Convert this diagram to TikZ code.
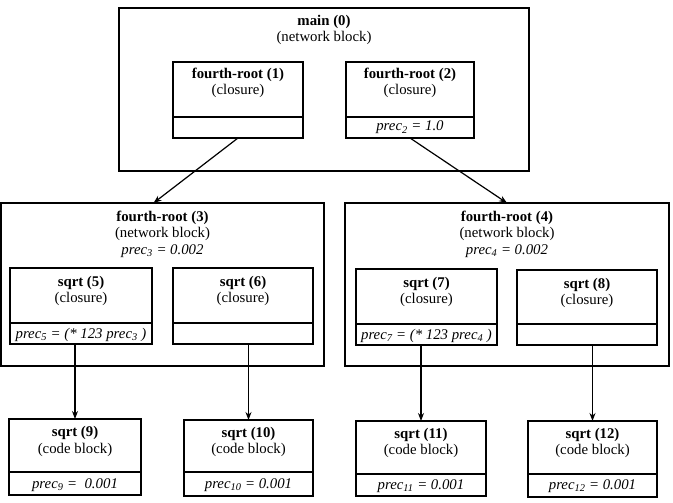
\documentclass[tikz,border=0pt]{standalone}
\usepackage{fontspec}
\setmainfont{Liberation Serif}
\usetikzlibrary{fit,arrows.meta,calc}
\newcommand{\pbox}[5]{\node[blk,fit={(#2,#3) (#4,#5)}] (#1) {};}
\begin{document}
\begin{tikzpicture}[x=1pt,y=-1pt,
  blk/.style={draw,line width=1.3pt,inner sep=0pt,outer sep=0pt},
  divl/.style={line width=1.1pt},
  txt/.style={anchor=base,inner sep=0pt,font=\fontsize{14.8}{17}\selectfont},
  ttl/.style={txt,font=\fontsize{14.8}{17}\selectfont\bfseries},
  prc/.style={txt,font=\fontsize{14.8}{17}\selectfont\itshape},
  conn/.style={line width=1.2pt,-{Stealth[length=8pt,width=6pt]}}]
\useasboundingbox (0,0) rectangle (673,503);
% main
\pbox{b0}{119}{8}{529}{171}
\node[ttl] (t0) at (b0.north |- 0,26) {main (0)};
\node[txt] (s0) at (b0.north |- 0,42) {(network block)};
% box 1
\pbox{b1}{173}{62}{303}{138}
\draw[divl] (b1.west |- 0,117) -- (b1.east |- 0,117);
\node[ttl] (t1) at (b1.north |- 0,79) {fourth-root (1)};
\node[txt] (s1) at (b1.north |- 0,95) {(closure)};
% box 2
\pbox{b2}{346}{62}{474}{138}
\draw[divl] (b2.west |- 0,117) -- (b2.east |- 0,117);
\node[ttl] (t2) at (b2.north |- 0,79) {fourth-root (2)};
\node[txt] (s2) at (b2.north |- 0,95) {(closure)};
\node[prc] (p2) at (b2.north |- 0,131) {prec\textsubscript{2} = 1.0};
% box 3
\pbox{b3}{1}{203}{324}{366}
\node[ttl] (t3) at (b3.north |- 0,221) {fourth-root (3)};
\node[txt] (s3) at (b3.north |- 0,237) {(network block)};
\node[prc] (p3) at (b3.north |- 0,254) {prec\textsubscript{3} = 0.002};
% box 4
\pbox{b4}{345}{203}{669}{366}
\node[ttl] (t4) at (b4.north |- 0,221) {fourth-root (4)};
\node[txt] (s4) at (b4.north |- 0,237) {(network block)};
\node[prc] (p4) at (b4.north |- 0,254) {prec\textsubscript{4} = 0.002};
% box 5
\pbox{b5}{10}{268}{152}{344}
\draw[divl] (b5.west |- 0,323) -- (b5.east |- 0,323);
\node[ttl] (t5) at (b5.north |- 0,286) {sqrt (5)};
\node[txt] (s5) at (b5.north |- 0,302) {(closure)};
\node[prc] (p5) at (b5.north |- 0,338) {prec\textsubscript{5} = (* 123 prec\textsubscript{3} )};
% box 6
\pbox{b6}{173}{268}{313}{344}
\draw[divl] (b6.west |- 0,323) -- (b6.east |- 0,323);
\node[ttl] (t6) at (b6.north |- 0,286) {sqrt (6)};
\node[txt] (s6) at (b6.north |- 0,302) {(closure)};
% box 7
\pbox{b7}{356}{269}{497}{345}
\draw[divl] (b7.west |- 0,324) -- (b7.east |- 0,324);
\node[ttl] (t7) at (b7.north |- 0,287) {sqrt (7)};
\node[txt] (s7) at (b7.north |- 0,303) {(closure)};
\node[prc] (p7) at (b7.north |- 0,339) {prec\textsubscript{7} = (* 123 prec\textsubscript{4} )};
% box 8
\pbox{b8}{517}{270}{657}{345}
\draw[divl] (b8.west |- 0,324) -- (b8.east |- 0,324);
\node[ttl] (t8) at (b8.north |- 0,288) {sqrt (8)};
\node[txt] (s8) at (b8.north |- 0,304) {(closure)};
% box 9
\pbox{b9}{9}{419}{141}{495}
\draw[divl] (b9.west |- 0,472) -- (b9.east |- 0,472);
\node[ttl] (t9) at (b9.north |- 0,436) {sqrt (9)};
\node[txt] (s9) at (b9.north |- 0,453) {(code block)};
\node[prc] (p9) at (b9.north |- 0,488) {prec\textsubscript{9} =\ \ 0.001};
% box 10
\pbox{b10}{184}{420}{313}{496}
\draw[divl] (b10.west |- 0,472) -- (b10.east |- 0,472);
\node[ttl] (t10) at (b10.north |- 0,437) {sqrt (10)};
\node[txt] (s10) at (b10.north |- 0,453) {(code block)};
\node[prc] (p10) at (b10.north |- 0,488) {prec\textsubscript{10} = 0.001};
% box 11
\pbox{b11}{356}{421}{486}{496}
\draw[divl] (b11.west |- 0,474) -- (b11.east |- 0,474);
\node[ttl] (t11) at (b11.north |- 0,438) {sqrt (11)};
\node[txt] (s11) at (b11.north |- 0,454) {(code block)};
\node[prc] (p11) at (b11.north |- 0,489) {prec\textsubscript{11} = 0.001};
% box 12
\pbox{b12}{528}{421}{657}{497}
\draw[divl] (b12.west |- 0,474) -- (b12.east |- 0,474);
\node[ttl] (t12) at (b12.north |- 0,438) {sqrt (12)};
\node[txt] (s12) at (b12.north |- 0,454) {(code block)};
\node[prc] (p12) at (b12.north |- 0,489) {prec\textsubscript{12} = 0.001};
% connectors
\draw[conn] (b1.south) -- ($(b3.north)+(-9,0)$);
\draw[conn] (b2.south) -- (b4.north);
\draw[conn] (b9.north |- b5.south) -- (b9.north);
\draw[conn] (b10.north |- b6.south) -- (b10.north);
\draw[conn] (b11.north |- b7.south) -- (b11.north);
\draw[conn] (b12.north |- b8.south) -- (b12.north);
\end{tikzpicture}
\end{document}
